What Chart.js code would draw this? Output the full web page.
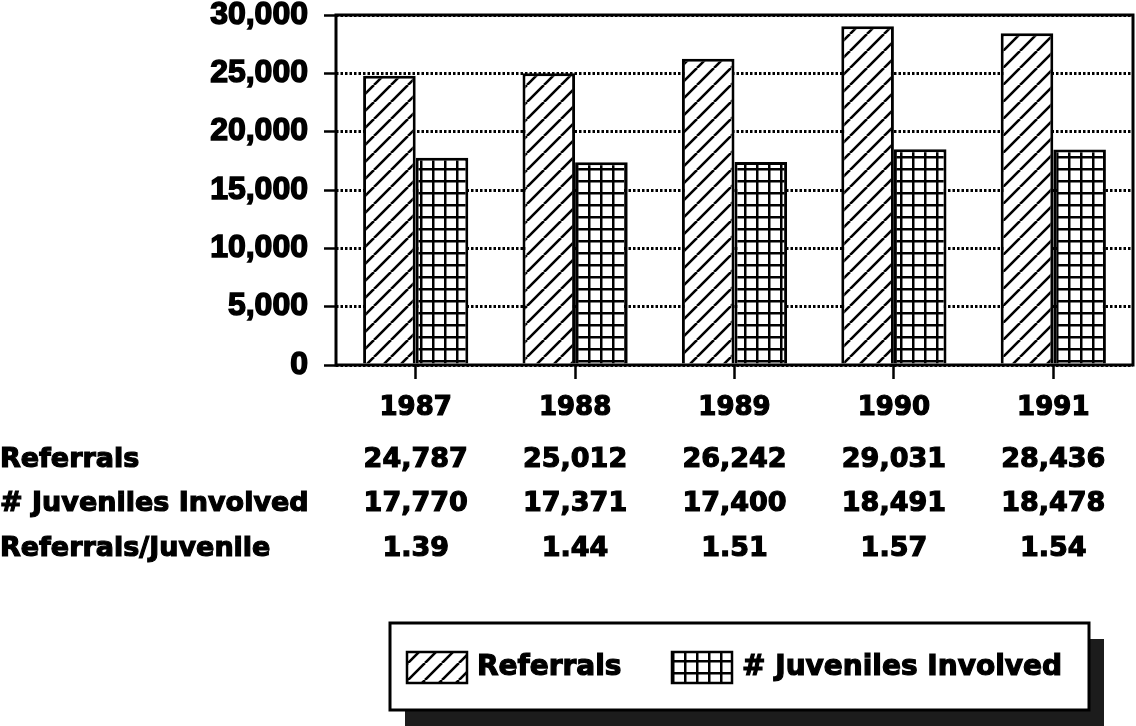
<!DOCTYPE html>
<html>
<head>
<meta charset="utf-8">
<script src="https://cdn.jsdelivr.net/npm/chart.js@4.4.1/dist/chart.umd.min.js"></script>
<style>
  html, body { margin: 0; padding: 0; background: #fff; }
  #wrap { position: relative; width: 1136px; height: 726px; }
</style>
</head>
<body>
<div id="wrap"><canvas id="chart" width="1136" height="726"></canvas></div>
<script>
// data
const years = ['1987', '1988', '1989', '1990', '1991'];
const referrals = [24787, 25012, 26242, 29031, 28436];
const juveniles = [17770, 17371, 17400, 18491, 18478];
const ratios = ['1.39', '1.44', '1.51', '1.57', '1.54'];
const yTicks = [0, 5000, 10000, 15000, 20000, 25000, 30000];
const seriesNames = ['Referrals', '# Juveniles Involved'];
const rowLabels = ['Referrals', '# Juveniles Involved', 'Referrals/Juvenile'];

const WORD_FONT = '"DejaVu Sans", sans-serif';
const NUM_FONT = '"Liberation Sans", Arial, sans-serif';

// fill patterns: diagonal hatch and small grid
function hatchPattern(ctx) {
    const s = 17;
    const c = document.createElement('canvas');
    c.width = s; c.height = s;
    const g = c.getContext('2d');
    g.fillStyle = '#fff';
    g.fillRect(0, 0, s, s);
    g.strokeStyle = '#000';
    g.lineWidth = 2.6;
    g.beginPath();
    for (let k = -1; k <= 1; k++) {
        g.moveTo(k * s, s);
        g.lineTo(k * s + s, 0);
    }
    g.stroke();
    return ctx.createPattern(c, 'repeat');
}

function gridPattern(ctx) {
    const s = 12;
    const c = document.createElement('canvas');
    c.width = s; c.height = s;
    const g = c.getContext('2d');
    g.fillStyle = '#fff';
    g.fillRect(0, 0, s, s);
    g.fillStyle = '#000';
    g.fillRect(0, 0, s, 2.5);
    g.fillRect(0, 0, 2.5, s);
    return ctx.createPattern(c, 'repeat');
}

const canvas = document.getElementById('chart');
const ctx = canvas.getContext('2d');
const hatch = hatchPattern(ctx);
const grid = gridPattern(ctx);

// heavy text like the original typeface
function heavyText(c, text, x, y) {
    c.fillText(text, x, y);
    c.strokeText(text, x, y);
}

// plot frame drawn solid over the dotted grid
const framePlugin = {
    id: 'frame',
    afterDatasetsDraw(chart) {
        const a = chart.chartArea;
        const c = chart.ctx;
        c.save();
        c.setLineDash([]);
        c.strokeStyle = '#000';
        c.lineWidth = 3;
        c.strokeRect(a.left, a.top, a.right - a.left, a.bottom - a.top);
        c.restore();
    }
};

// data table under the axis
const tablePlugin = {
    id: 'dataTable',
    afterDraw(chart) {
        const c = chart.ctx;
        const xs = chart.scales.x;
        const rowY = [460, 504, 549];
        const rows = [
            referrals.map(v => v.toLocaleString('en-US')),
            juveniles.map(v => v.toLocaleString('en-US')),
            ratios
        ];
        c.save();
        c.fillStyle = '#000';
        c.strokeStyle = '#000';
        c.lineWidth = 1.2;
        c.textBaseline = 'middle';
        c.font = 'bold 27px ' + WORD_FONT;
        c.textAlign = 'left';
        rowLabels.forEach((t, i) => heavyText(c, t, 0, rowY[i]));
        c.textAlign = 'center';
        rows.forEach((vals, r) => {
            vals.forEach((v, i) => heavyText(c, v, xs.getPixelForValue(i), rowY[r]));
        });
        c.restore();
    }
};

// boxed legend with a drop shadow
const legendPlugin = {
    id: 'boxLegend',
    afterDraw(chart) {
        const c = chart.ctx;
        const box = { x: 390, y: 623, w: 699, h: 87 };
        c.save();
        c.fillStyle = '#1c1c1c';
        c.fillRect(box.x + 15, box.y + 16, box.w, box.h);
        c.fillStyle = '#fff';
        c.fillRect(box.x, box.y, box.w, box.h);
        c.strokeStyle = '#000';
        c.lineWidth = 3;
        c.strokeRect(box.x, box.y, box.w, box.h);

        const fills = [hatch, grid];
        const swX = [407, 672];
        const cy = box.y + 44;
        c.font = 'bold 28px ' + WORD_FONT;
        c.textBaseline = 'middle';
        c.textAlign = 'left';
        seriesNames.forEach((name, i) => {
            c.fillStyle = fills[i];
            c.fillRect(swX[i], cy - 15, 60, 31);
            c.lineWidth = 2.5;
            c.strokeStyle = '#000';
            c.strokeRect(swX[i], cy - 15, 60, 31);
            c.fillStyle = '#000';
            c.lineWidth = 1.2;
            heavyText(c, name, swX[i] + 70, cy + 1);
        });
        c.restore();
    }
};

new Chart(ctx, {
    type: 'bar',
    data: {
        labels: years,
        datasets: [
            {
                label: seriesNames[0],
                data: referrals,
                backgroundColor: hatch,
                borderColor: '#000',
                borderWidth: 3
            },
            {
                label: seriesNames[1],
                data: juveniles,
                backgroundColor: grid,
                borderColor: '#000',
                borderWidth: 3
            }
        ]
    },
    options: {
        responsive: false,
        animation: false,
        events: [],
        layout: { padding: { left: 0, right: 3, top: 15, bottom: 0 } },
        datasets: {
            bar: { categoryPercentage: 0.66, barPercentage: 1.0 }
        },
        plugins: {
            legend: { display: false },
            tooltip: { enabled: false }
        },
        scales: {
            x: {
                afterFit(scale) {
                    scale.height = 726 - 365;
                    scale.paddingLeft = 0;
                    scale.paddingRight = 0;
                },
                grid: {
                    display: true,
                    drawOnChartArea: false,
                    offset: false,
                    tickLength: 14,
                    tickWidth: 2.5,
                    tickColor: '#000'
                },
                border: { display: false },
                ticks: {
                    color: '#000',
                    padding: 16,
                    textStrokeColor: '#000',
                    textStrokeWidth: 1.2,
                    font: { family: WORD_FONT, size: 26, weight: 'bold', lineHeight: 1 }
                }
            },
            y: {
                min: 0,
                max: 30000,
                afterFit(scale) {
                    scale.width = 336;
                    scale.paddingTop = 0;
                    scale.paddingBottom = 0;
                },
                afterBuildTicks(scale) { scale.ticks = yTicks.map(v => ({ value: v })); },
                grid: {
                    color: '#000',
                    lineWidth: 3,
                    tickLength: 12,
                    tickWidth: 2.5,
                    tickColor: '#000',
                    tickBorderDash: []
                },
                border: { display: false, dash: [2.5, 2] },
                ticks: {
                    color: '#000',
                    padding: 16,
                    textStrokeColor: '#000',
                    textStrokeWidth: 1.5,
                    callback: v => v.toLocaleString('en-US'),
                    font: { family: NUM_FONT, size: 32, weight: 'bold', lineHeight: 0.9 }
                }
            }
        }
    },
    plugins: [framePlugin, tablePlugin, legendPlugin]
});
</script>
</body>
</html>
